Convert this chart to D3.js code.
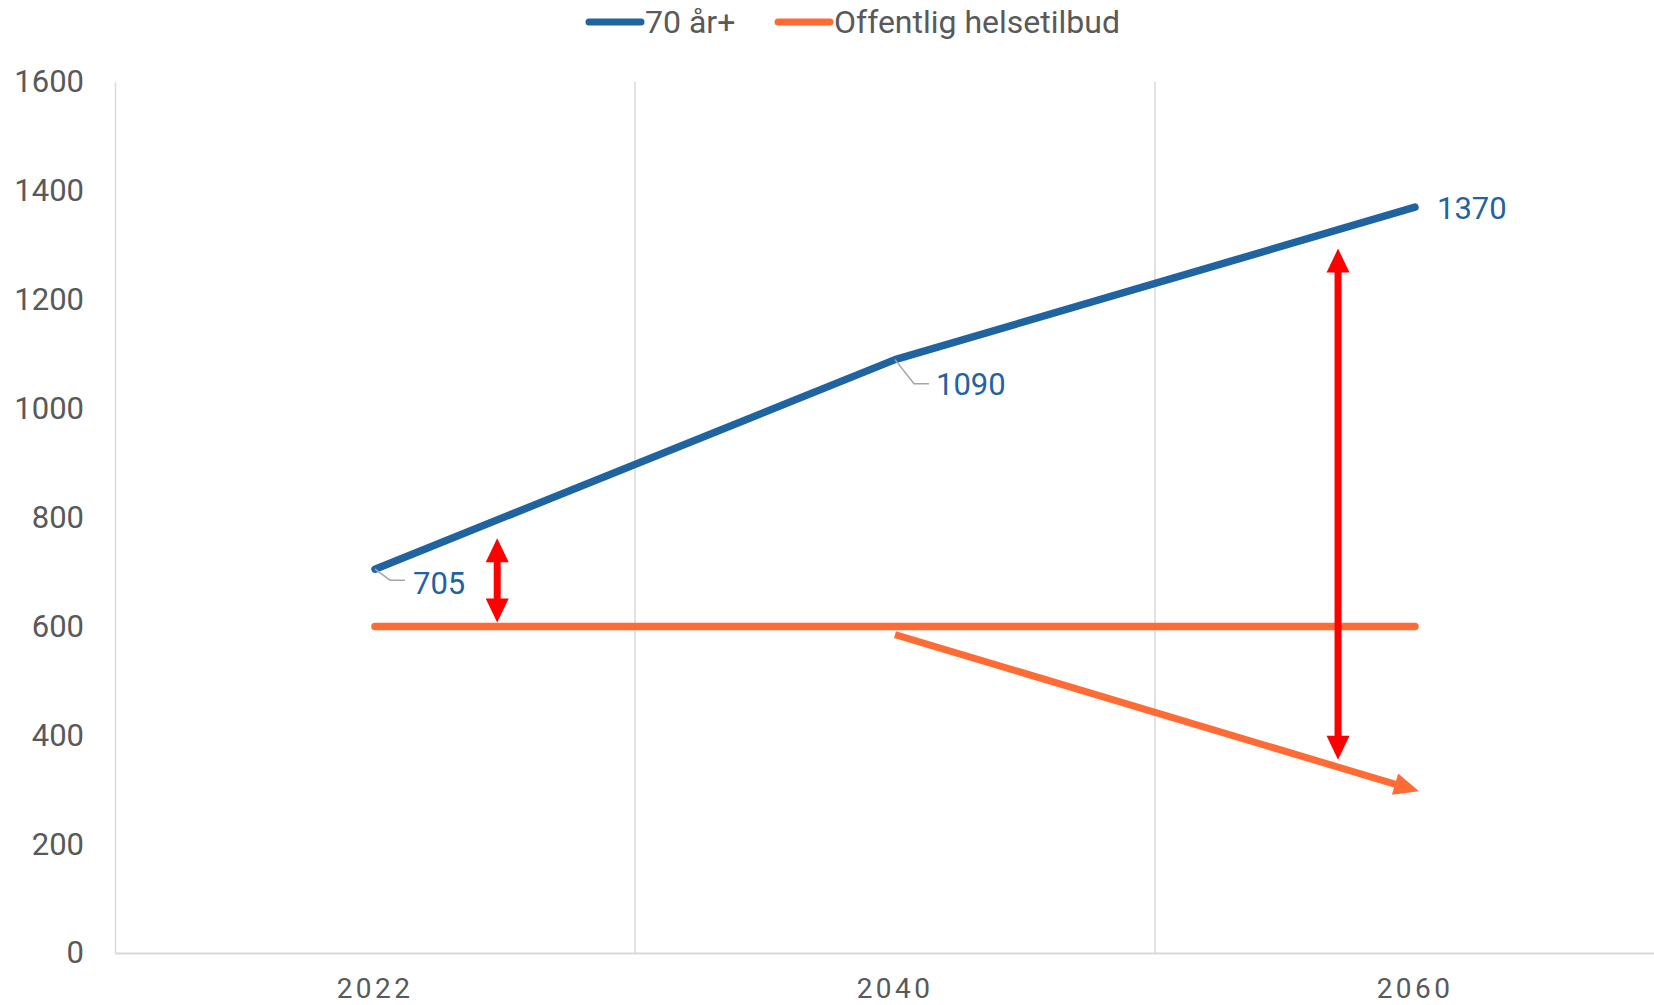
<!DOCTYPE html>
<html>
<head>
<meta charset="utf-8">
<script src="https://cdn.jsdelivr.net/npm/d3@7"></script>
<style>
  body { margin: 0; background: #fff; }
  svg { display: block; font-family: Roboto, "Noto Sans", sans-serif; }
</style>
</head>
<body>
<svg width="1654" height="1005"></svg>
<script>
// Chart data
const years = ["2022", "2040", "2060"];
const elderly = [705, 1090, 1370];          // 70 år+
const healthSupply = [600, 600, 600];       // Offentlig helsetilbud
const yTicks = [0, 200, 400, 600, 800, 1000, 1200, 1400, 1600];

// orange decline arrow (category index, value)
const declineIdx = [1, 2];
const declineVals = [585, 297];

// red gap arrows (category index position, low value, high value)
const gapIdx = [0.235, 1.852];
const gapLow = [607, 355];
const gapHigh = [762, 1294];

const blue = "#1f64a0";
const orange = "#ff6b35";
const red = "#ff0000";
const grey = "#595959";
const gridGrey = "#d9d9d9";

const svg = d3.select("svg");

const plotLeft = 115, plotRight = 1675, plotTop = 82, plotBottom = 953;

const x = d3.scaleBand().domain(years).range([plotLeft, plotRight]).padding(0);
const y = d3.scaleLinear().domain([0, 1600]).range([plotBottom, plotTop]);

// position for fractional category index
const xi = i => x(years[0]) + x.bandwidth() / 2 + i * x.step();

// vertical gridlines at band boundaries
svg.append("g")
  .selectAll("line")
  .data(years.slice(1))
  .enter().append("line")
  .attr("x1", d => x(d)).attr("x2", d => x(d))
  .attr("y1", plotTop).attr("y2", plotBottom)
  .attr("stroke", gridGrey)
  .attr("stroke-width", 1.5);

// y axis
const yAxis = svg.append("g")
  .attr("transform", `translate(${plotLeft},0)`)
  .call(d3.axisLeft(y).tickValues(yTicks).tickFormat(d3.format("d")).tickSize(0).tickPadding(31));
yAxis.select(".domain").attr("stroke", gridGrey).attr("stroke-width", 1.5);
yAxis.selectAll("text")
  .attr("fill", grey)
  .style("font-size", "31px")
  .attr("font-family", "Roboto");

// x axis
const xAxis = svg.append("g")
  .attr("transform", `translate(0,${plotBottom})`)
  .call(d3.axisBottom(x).tickSize(0).tickPadding(25));
xAxis.select(".domain").attr("stroke", gridGrey).attr("stroke-width", 2);
xAxis.selectAll("text")
  .attr("fill", grey)
  .style("font-size", "28px")
  .style("letter-spacing", "3.4px")
  .attr("font-family", "Roboto");

// lines
const line = d3.line()
  .x((d, i) => x(years[i]) + x.bandwidth() / 2)
  .y(d => y(d));

svg.append("path")
  .datum(healthSupply)
  .attr("d", line)
  .attr("fill", "none")
  .attr("stroke", orange)
  .attr("stroke-width", 7.5)
  .attr("stroke-linecap", "round");

svg.append("path")
  .datum(elderly)
  .attr("d", line)
  .attr("fill", "none")
  .attr("stroke", blue)
  .attr("stroke-width", 7.5)
  .attr("stroke-linecap", "round")
  .attr("stroke-linejoin", "round");

// arrowhead polygon with tip at (tx,ty) pointing along (dx,dy)
function arrowHead(tx, ty, dx, dy, len, wid) {
  const d = Math.sqrt(dx * dx + dy * dy);
  const ux = dx / d, uy = dy / d;
  const px = -uy, py = ux;
  const bx = tx - ux * len, by = ty - uy * len;
  return `M${tx},${ty}L${bx + px * wid / 2},${by + py * wid / 2}L${bx - px * wid / 2},${by - py * wid / 2}Z`;
}

// orange decline arrow
{
  const x1 = xi(declineIdx[0]), y1 = y(declineVals[0]);
  const x2 = xi(declineIdx[1]) + 4, y2 = y(declineVals[1]);
  const dx = x2 - x1, dy = y2 - y1;
  const d = Math.sqrt(dx * dx + dy * dy);
  svg.append("line")
    .attr("x1", x1).attr("y1", y1)
    .attr("x2", x2 - dx / d * 20).attr("y2", y2 - dy / d * 20)
    .attr("stroke", orange)
    .attr("stroke-width", 7);
  svg.append("path")
    .attr("d", arrowHead(x2, y2, dx, dy, 25, 22))
    .attr("fill", orange);
}

// red double-headed gap arrows
gapIdx.forEach((g, i) => {
  const ax = xi(g);
  const yTop = y(gapHigh[i]), yBot = y(gapLow[i]);
  svg.append("line")
    .attr("x1", ax).attr("x2", ax)
    .attr("y1", yTop + 20).attr("y2", yBot - 20)
    .attr("stroke", red)
    .attr("stroke-width", 7);
  svg.append("path").attr("d", arrowHead(ax, yTop, 0, -1, 24, 23)).attr("fill", red);
  svg.append("path").attr("d", arrowHead(ax, yBot, 0, 1, 24, 23)).attr("fill", red);
});

// data labels with leader lines
const labelFont = "31px";
// 705
{
  const px = x(years[0]) + x.bandwidth() / 2, py = y(elderly[0]);
  svg.append("polyline")
    .attr("points", `${px},${py} ${px + 15},${py + 11} ${px + 30},${py + 11}`)
    .attr("fill", "none").attr("stroke", "#a6a6a6").attr("stroke-width", 1.5);
  svg.append("text")
    .attr("x", px + 38).attr("y", py + 14)
    .attr("dy", "0.35em")
    .attr("fill", blue).style("font-size", labelFont)
    .text(elderly[0]);
}
// 1090
{
  const px = x(years[1]) + x.bandwidth() / 2, py = y(elderly[1]);
  svg.append("polyline")
    .attr("points", `${px},${py} ${px + 19},${py + 24} ${px + 34},${py + 24}`)
    .attr("fill", "none").attr("stroke", "#a6a6a6").attr("stroke-width", 1.5);
  svg.append("text")
    .attr("x", px + 41).attr("y", py + 25)
    .attr("dy", "0.35em")
    .attr("fill", blue).style("font-size", labelFont)
    .text(elderly[1]);
}
// 1370
{
  const px = x(years[2]) + x.bandwidth() / 2, py = y(elderly[2]);
  svg.append("text")
    .attr("x", px + 22).attr("y", py + 1)
    .attr("dy", "0.35em")
    .attr("fill", blue).style("font-size", labelFont)
    .text(elderly[2]);
}

// legend
const legend = [
  { name: "70 år+", color: blue, x: 589 },
  { name: "Offentlig helsetilbud", color: orange, x: 778 }
];
const lg = svg.append("g").selectAll("g")
  .data(legend)
  .enter().append("g")
  .attr("transform", d => `translate(${d.x},22)`);
lg.append("line")
  .attr("x1", 0).attr("x2", 52)
  .attr("stroke", d => d.color)
  .attr("stroke-width", 7)
  .attr("stroke-linecap", "round");
lg.append("text")
  .attr("x", 56)
  .attr("dy", "0.35em")
  .attr("fill", grey)
  .style("font-size", "32px")
  .text(d => d.name);
</script>
</body>
</html>
